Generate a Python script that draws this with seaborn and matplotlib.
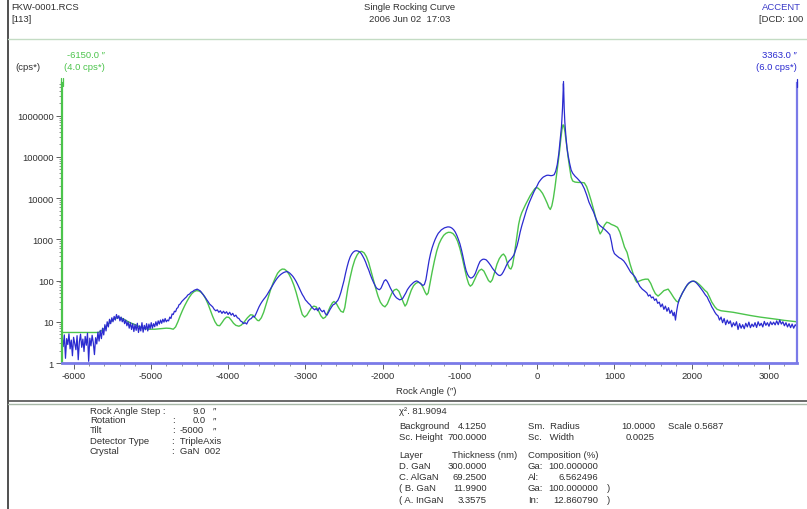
import matplotlib
matplotlib.use("Agg")
import matplotlib.pyplot as plt
import seaborn as sns
from matplotlib.lines import Line2D
from matplotlib.ticker import FixedLocator, FixedFormatter, NullFormatter, LogLocator, MultipleLocator

# ---------------- data ----------------
blue_angle = [
    -6150, -6135, -6120, -6105, -6090, -6075, -6060, -6045, -6030, -6015, -6000, -5985, -5970, -5955, -5940,
    -5925, -5910, -5895, -5880, -5865, -5850, -5835, -5820, -5805, -5790, -5775, -5760, -5745, -5730, -5715,
    -5700, -5685, -5670, -5655, -5640, -5625, -5610, -5595, -5580, -5565, -5550, -5535, -5520, -5505, -5490,
    -5475, -5460, -5445, -5430, -5415, -5400, -5385, -5370, -5355, -5340, -5325, -5310, -5295, -5280, -5265,
    -5250, -5235, -5220, -5205, -5190, -5175, -5160, -5145, -5130, -5115, -5100, -5085, -5070, -5055, -5040,
    -5025, -5010, -4995, -4980, -4965, -4950, -4935, -4920, -4905, -4890, -4875, -4860, -4845, -4830, -4815,
    -4800, -4785, -4770, -4755, -4740, -4725, -4710, -4695, -4680, -4665, -4650, -4635, -4620, -4600, -4580,
    -4560, -4540, -4520, -4500, -4480, -4460, -4440, -4420, -4400, -4380, -4360, -4340, -4320, -4300, -4280,
    -4260, -4240, -4220, -4200, -4180, -4160, -4140, -4120, -4100, -4080, -4060, -4040, -4020, -4000, -3980,
    -3960, -3940, -3920, -3900, -3880, -3860, -3840, -3820, -3800, -3780, -3760, -3740, -3720, -3700, -3680,
    -3660, -3640, -3620, -3600, -3580, -3560, -3540, -3520, -3500, -3480, -3460, -3440, -3420, -3400, -3380,
    -3360, -3340, -3320, -3300, -3280, -3260, -3240, -3220, -3200, -3180, -3160, -3140, -3120, -3100, -3080,
    -3060, -3040, -3020, -3000, -2980, -2960, -2940, -2920, -2900, -2880, -2860, -2840, -2820, -2800, -2780,
    -2760, -2740, -2720, -2700, -2680, -2660, -2640, -2620, -2600, -2580, -2560, -2540, -2520, -2500, -2480,
    -2460, -2440, -2420, -2400, -2380, -2360, -2340, -2320, -2300, -2280, -2260, -2240, -2220, -2200, -2180,
    -2160, -2140, -2120, -2100, -2080, -2060, -2040, -2020, -2000, -1980, -1960, -1940, -1920, -1900, -1880,
    -1860, -1840, -1820, -1800, -1780, -1760, -1740, -1720, -1700, -1680, -1660, -1640, -1620, -1600, -1580,
    -1560, -1540, -1520, -1500, -1480, -1460, -1440, -1420, -1400, -1380, -1360, -1340, -1320, -1300, -1280,
    -1260, -1240, -1220, -1200, -1180, -1160, -1140, -1120, -1100, -1080, -1060, -1040, -1020, -1000, -980,
    -960, -940, -920, -900, -880, -860, -840, -820, -800, -780, -760, -740, -720, -700, -680,
    -660, -640, -620, -600, -580, -560, -540, -520, -500, -480, -460, -440, -420, -400, -380,
    -360, -340, -320, -300, -280, -260, -240, -220, -200, -180, -160, -140, -120, -100, -80,
    -60, -40, -20, 0, 20, 40, 60, 80, 100, 120, 140, 160, 180, 200, 220,
    240, 260, 280, 300, 315, 328, 336, 340, 344, 350, 358, 370, 385, 400, 420,
    440, 460, 490, 520, 550, 580, 610, 640, 670, 700, 730, 760, 790, 820, 850,
    880, 910, 940, 960, 980, 1000, 1030, 1060, 1090, 1120, 1150, 1180, 1210, 1240, 1270,
    1300, 1330, 1360, 1390, 1420, 1440, 1460, 1480, 1500, 1520, 1540, 1560, 1580, 1600, 1620,
    1640, 1660, 1680, 1700, 1720, 1740, 1760, 1775, 1790, 1805, 1820, 1840, 1860, 1880, 1900,
    1920, 1940, 1960, 1980, 2000, 2020, 2040, 2060, 2080, 2100, 2120, 2140, 2160, 2180, 2200,
    2220, 2240, 2260, 2280, 2300, 2320, 2340, 2360, 2380, 2400, 2420, 2440, 2460, 2480, 2500,
    2520, 2540, 2560, 2580, 2600, 2620, 2640, 2660, 2680, 2700, 2720, 2740, 2760, 2780, 2800,
    2820, 2840, 2860, 2880, 2900, 2920, 2940, 2960, 2980, 3000, 3020, 3040, 3060, 3080, 3100,
    3120, 3140, 3160, 3180, 3200, 3220, 3240, 3260, 3280, 3300, 3320, 3340, 3363,
]
blue_cps = [
    4.5, 2.5, 4.8, 1.3, 3.9, 2.8, 5.1, 2.2, 3.6, 1.5, 4.2, 3.0, 2.1, 4.6, 1.2,
    3.3, 5.0, 2.4, 3.8, 1.9, 4.4, 2.7, 5.3, 1.1, 4.0, 2.6, 4.7, 3.1, 1.6, 4.1,
    2.9, 5.6, 3.4, 6.2, 3.9, 7.0, 4.8, 8.5, 6.0, 10.0, 7.5, 11.5, 9.0, 12.5, 10.0,
    13.5, 11.0, 15.0, 12.0, 14.0, 10.5, 13.0, 10.0, 12.0, 9.0, 11.0, 8.0, 10.0, 7.0, 9.5,
    6.5, 9.0, 5.8, 8.5, 6.2, 9.2, 5.5, 8.0, 6.0, 9.5, 5.6, 8.2, 6.4, 9.0, 6.0,
    8.8, 6.8, 9.5, 7.0, 9.0, 7.6, 10.0, 8.0, 10.5, 8.8, 11.0, 9.2, 11.5, 9.8, 12.0,
    10.0, 11.0, 10.5, 13.0, 12.0, 15.5, 15.0, 18.0, 17.5, 21.0, 22.0, 26.0, 27.0, 31.0, 34.0,
    37.0, 40.0, 45.0, 47.0, 52.0, 54.0, 58.0, 60.0, 62.0, 59.0, 56.0, 50.0, 45.0, 40.0, 35.0,
    31.0, 27.0, 25.0, 23.0, 20.0, 18.5, 19.5, 17.0, 18.5, 16.0, 18.0, 16.0, 17.5, 15.0, 17.0,
    14.5, 16.0, 13.5, 14.5, 12.5, 12.0, 10.5, 10.0, 9.0, 9.5, 8.8, 10.5, 11.5, 12.0, 13.5,
    13.0, 15.5, 19.0, 23.0, 27.0, 31.0, 35.0, 39.0, 44.0, 51.0, 59.0, 69.0, 79.0, 91.0, 104.0,
    117.0, 129.0, 140.0, 149.0, 157.0, 162.0, 165.0, 160.0, 150.0, 138.0, 125.0, 110.0, 95.0, 80.0, 66.0,
    55.0, 46.0, 40.0, 34.0, 31.0, 28.0, 26.0, 23.0, 21.0, 19.5, 21.0, 18.5, 22.0, 19.0, 17.5,
    19.0, 15.5, 14.5, 17.0, 20.0, 23.0, 26.0, 27.0, 30.0, 33.0, 40.0, 52.0, 72.0, 100.0, 150.0,
    215.0, 295.0, 375.0, 440.0, 490.0, 520.0, 530.0, 520.0, 500.0, 460.0, 400.0, 340.0, 280.0, 220.0, 180.0,
    140.0, 112.0, 92.0, 77.0, 66.0, 62.0, 60.0, 66.0, 80.0, 98.0, 105.0, 95.0, 80.0, 66.0, 56.0,
    48.0, 42.0, 38.0, 36.0, 34.0, 35.0, 37.0, 43.0, 50.0, 60.0, 68.0, 76.0, 83.0, 90.0, 95.0,
    98.0, 94.0, 88.0, 82.0, 76.0, 80.0, 105.0, 180.0, 300.0, 450.0, 620.0, 800.0, 1000.0, 1200.0, 1400.0,
    1550.0, 1700.0, 1800.0, 1900.0, 1950.0, 2000.0, 2000.0, 1950.0, 1850.0, 1700.0, 1500.0, 1250.0, 1000.0, 780.0, 560.0,
    380.0, 250.0, 175.0, 140.0, 122.0, 115.0, 118.0, 128.0, 150.0, 190.0, 240.0, 290.0, 315.0, 330.0, 328.0,
    318.0, 290.0, 260.0, 230.0, 200.0, 178.0, 160.0, 145.0, 135.0, 132.0, 140.0, 160.0, 190.0, 230.0, 270.0,
    305.0, 330.0, 370.0, 420.0, 540.0, 700.0, 1000.0, 1500.0, 2100.0, 2800.0, 3800.0, 5000.0, 6400.0, 8000.0, 9800.0,
    12000.0, 14500.0, 17000.0, 20000.0, 24000.0, 27000.0, 30000.0, 32500.0, 34000.0, 35500.0, 36000.0, 35500.0, 35000.0, 35500.0, 37000.0,
    45000.0, 65000.0, 120000.0, 280000.0, 550000.0, 1500000.0, 4000000.0, 6000000.0, 4000000.0, 1500000.0, 700000.0, 350000.0, 170000.0, 110000.0, 70000.0,
    48000.0, 40000.0, 34000.0, 30000.0, 26000.0, 22000.0, 17000.0, 12000.0, 8000.0, 6000.0, 4600.0, 3200.0, 2400.0, 2100.0, 1900.0,
    1700.0, 1500.0, 1300.0, 900.0, 560.0, 450.0, 400.0, 360.0, 335.0, 300.0, 250.0, 200.0, 160.0, 140.0, 120.0,
    92.0, 72.0, 62.0, 56.0, 50.0, 42.0, 45.0, 38.0, 40.0, 33.0, 36.0, 28.0, 30.0, 23.0, 27.0,
    20.0, 24.0, 18.0, 22.0, 16.0, 19.0, 14.0, 17.0, 11.0, 18.0, 26.0, 35.0, 42.0, 50.0, 58.0,
    68.0, 78.0, 86.0, 92.0, 96.0, 97.0, 94.0, 88.0, 80.0, 72.0, 64.0, 57.0, 50.0, 44.0, 40.0,
    33.0, 28.0, 23.0, 20.0, 17.0, 15.0, 14.0, 11.0, 13.0, 9.5, 12.0, 8.5, 11.0, 9.0, 10.5,
    7.5, 9.5, 8.0, 10.0, 6.5, 9.0, 7.0, 8.5, 6.8, 9.2, 7.5, 9.8, 7.2, 8.8, 7.6,
    9.5, 7.3, 10.0, 8.0, 9.2, 7.5, 10.2, 8.2, 9.5, 7.8, 10.0, 8.5, 9.8, 8.4, 10.5,
    8.5, 11.0, 8.8, 10.0, 8.0, 9.5, 7.5, 9.0, 7.2, 8.8, 7.0, 8.5, 7.5,
]

green_angle = [
    -6150, -5680, -5640, -5600, -5560, -5520, -5480, -5440, -5420, -5390, -5350, -5300, -5250, -5200, -5150,
    -5100, -5030, -4950, -4880, -4800, -4750, -4710, -4680, -4650, -4620, -4590, -4560, -4530, -4500, -4470,
    -4440, -4410, -4380, -4350, -4320, -4290, -4260, -4230, -4200, -4170, -4140, -4110, -4080, -4050, -4020,
    -3990, -3960, -3930, -3900, -3860, -3830, -3790, -3750, -3710, -3680, -3650, -3620, -3600, -3570, -3540,
    -3510, -3480, -3450, -3420, -3390, -3360, -3330, -3300, -3270, -3240, -3210, -3180, -3150, -3120, -3090,
    -3060, -3040, -3010, -2980, -2950, -2920, -2890, -2860, -2830, -2800, -2770, -2740, -2710, -2680, -2650,
    -2630, -2600, -2570, -2540, -2510, -2490, -2470, -2450, -2420, -2390, -2360, -2330, -2300, -2270, -2240,
    -2210, -2180, -2150, -2120, -2090, -2060, -2030, -2000, -1970, -1940, -1910, -1880, -1850, -1820, -1790,
    -1760, -1730, -1710, -1690, -1660, -1630, -1600, -1570, -1540, -1510, -1480, -1450, -1430, -1410, -1390,
    -1360, -1330, -1300, -1270, -1240, -1210, -1180, -1150, -1120, -1090, -1060, -1030, -1000, -970, -940,
    -910, -885, -865, -840, -810, -780, -750, -720, -690, -660, -630, -605, -580, -550, -520,
    -490, -460, -436, -410, -385, -360, -340, -320, -300, -280, -260, -240, -220, -200, -180,
    -150, -120, -90, -60, -30, -10, 10, 40, 70, 100, 130, 150, 170, 190, 210,
    230, 250, 270, 290, 305, 320, 335, 345, 360, 372, 384, 400, 420, 440, 460,
    490, 530, 570, 610, 640, 670, 700, 730, 760, 790, 815, 840, 870, 900, 930,
    960, 1000, 1040, 1070, 1100, 1130, 1164, 1200, 1240, 1270, 1290, 1320, 1360, 1400, 1436,
    1470, 1500, 1530, 1565, 1600, 1640, 1695, 1730, 1770, 1800, 1824, 1850, 1880, 1920, 1960,
    2000, 2030, 2060, 2100, 2140, 2170, 2200, 2230, 2260, 2300, 2330, 2380, 2430, 2536, 2650,
    2760, 2885, 3000, 3100, 3200, 3300, 3363,
]
green_cps = [
    5.5, 5.5, 6.0, 7.0, 8.5, 10.0, 11.5, 12.5, 13.0, 12.5, 11.5, 10.2, 9.2, 8.5, 7.6,
    7.0, 6.6, 6.6, 6.8, 7.0, 6.9, 6.6, 7.5, 10.0, 14.0, 19.0, 25.0, 32.0, 40.0, 48.0,
    54.0, 57.0, 56.0, 52.0, 45.0, 36.0, 27.0, 19.0, 13.5, 10.0, 8.2, 8.0, 9.5, 11.5, 13.0,
    12.8, 11.0, 9.2, 8.2, 7.8, 8.3, 10.0, 12.5, 14.8, 14.5, 12.5, 10.8, 10.6, 12.5, 17.0,
    26.0, 40.0, 60.0, 85.0, 115.0, 150.0, 175.0, 190.0, 188.0, 170.0, 140.0, 108.0, 78.0, 52.0, 32.0,
    20.0, 15.0, 13.0, 14.5, 18.0, 22.0, 24.0, 23.0, 18.5, 14.0, 12.0, 13.0, 17.0, 23.0, 29.0,
    31.0, 28.0, 22.0, 18.0, 17.0, 22.0, 38.0, 65.0, 120.0, 210.0, 320.0, 420.0, 500.0, 510.0, 470.0,
    380.0, 270.0, 170.0, 105.0, 65.0, 42.0, 30.0, 25.0, 23.0, 27.0, 37.0, 50.0, 59.0, 62.0, 55.0,
    40.0, 29.0, 24.0, 27.0, 40.0, 58.0, 75.0, 86.0, 91.0, 86.0, 70.0, 52.0, 45.0, 50.0, 80.0,
    160.0, 300.0, 520.0, 780.0, 1020.0, 1250.0, 1400.0, 1480.0, 1470.0, 1380.0, 1180.0, 900.0, 600.0, 360.0, 200.0,
    115.0, 82.0, 73.0, 80.0, 105.0, 140.0, 175.0, 189.0, 170.0, 130.0, 100.0, 91.0, 105.0, 160.0, 250.0,
    340.0, 410.0, 440.0, 380.0, 260.0, 200.0, 190.0, 230.0, 380.0, 700.0, 1300.0, 2300.0, 3400.0, 4400.0, 5300.0,
    7000.0, 9000.0, 11500.0, 14000.0, 17000.0, 18000.0, 17500.0, 15500.0, 13000.0, 10000.0, 7500.0, 6000.0, 5300.0, 6500.0, 10000.0,
    18000.0, 35000.0, 70000.0, 140000.0, 260000.0, 450000.0, 600000.0, 580000.0, 400000.0, 260000.0, 180000.0, 100000.0, 55000.0, 32000.0, 26000.0,
    24500.0, 24000.0, 24000.0, 23500.0, 19000.0, 13000.0, 8500.0, 5300.0, 3200.0, 1800.0, 1350.0, 1600.0, 2200.0, 2600.0, 2500.0,
    2300.0, 2150.0, 1950.0, 1500.0, 1000.0, 650.0, 480.0, 260.0, 150.0, 105.0, 91.0, 97.0, 104.0, 108.0, 108.0,
    85.0, 62.0, 48.0, 42.0, 48.0, 57.0, 62.0, 50.0, 38.0, 32.0, 30.0, 38.0, 50.0, 68.0, 85.0,
    95.0, 97.0, 92.0, 80.0, 67.0, 58.0, 52.0, 40.0, 30.0, 23.0, 20.0, 18.5, 18.0, 17.0, 15.5,
    14.2, 13.0, 12.2, 11.5, 10.8, 10.3, 10.0,
]

y_ticks = [1, 10, 100, 1000, 10000, 100000, 1000000]
y_tick_labels = ["1", "10", "100", "1000", "10000", "100000", "1000000"]
x_ticks = [-6000, -5000, -4000, -3000, -2000, -1000, 0, 1000, 2000, 3000]
x_tick_labels = ["-6000", "-5000", "-4000", "-3000", "-2000", "-1000", "0", "1000", "2000", "3000"]

# ---------------- style ----------------
sns.set_theme(style="white")
plt.rcParams['font.family'] = ['Liberation Sans', 'DejaVu Sans']

BLUE = "#2b2bd0"
GREEN = "#4cc44c"
AXBLUE = "#7a7ae8"
TXT = "#303030"
FS = 6.8

W, H = 807, 510
fig = plt.figure(figsize=(W / 100, H / 100), dpi=100)
fig.patch.set_facecolor("white")


def fx(x):
    return x / W


def fy(y):
    return 1 - y / H


def ftext(x, y, s, ha="left", color=TXT, size=FS, **kw):
    fig.text(fx(x), fy(y), s, ha=ha, va="center", color=color, fontsize=size, **kw)


def fline(x0, y0, x1, y1, color, lw):
    fig.add_artist(Line2D([fx(x0), fx(x1)], [fy(y0), fy(y1)], color=color, lw=lw,
                          transform=fig.transFigure))


# ---------------- axes ----------------
L, R, T, B = 62, 797, 84, 364
ax = fig.add_axes([fx(L), fy(B), (R - L) / W, (B - T) / H])
ax.set_facecolor("white")

sns.lineplot(x=green_angle, y=green_cps, ax=ax, color=GREEN, lw=1.0,
             estimator=None, sort=False)
sns.lineplot(x=blue_angle, y=blue_cps, ax=ax, color=BLUE, lw=0.9,
             estimator=None, sort=False)

ax.set_yscale("log")
ax.set_xlim(-6150, 3363)
ax.set_ylim(1, 6.2e6)

ax.yaxis.set_major_locator(FixedLocator(y_ticks))
ax.yaxis.set_major_formatter(FixedFormatter(y_tick_labels))
ax.yaxis.set_minor_locator(LogLocator(base=10, subs=range(2, 10), numticks=20))
ax.yaxis.set_minor_formatter(NullFormatter())
ax.xaxis.set_major_locator(FixedLocator(x_ticks))
ax.xaxis.set_major_formatter(FixedFormatter(x_tick_labels))
ax.xaxis.set_minor_locator(MultipleLocator(200))

ax.tick_params(axis="both", which="major", direction="out", length=4, width=0.7,
               color="#606060", labelsize=FS, labelcolor=TXT, pad=2)
ax.tick_params(axis="both", which="minor", direction="out", length=2, width=0.6,
               color="#808080")
ax.tick_params(axis="x", which="both", bottom=True)
ax.tick_params(axis="y", which="both", left=True)

ax.spines["top"].set_visible(False)
ax.spines["left"].set_color(GREEN)
ax.spines["left"].set_linewidth(1.6)
ax.spines["bottom"].set_color(AXBLUE)
ax.spines["bottom"].set_linewidth(2.0)
ax.spines["right"].set_color(AXBLUE)
ax.spines["right"].set_linewidth(1.6)
ax.set_xlabel("")
ax.set_ylabel("")
ax.grid(False)

ftext(396, 391, "Rock Angle (″)")

# ---------------- frame / header ----------------
fline(8, 0, 8, H, "#505050", 1.4)
fline(8, 40, W, 40, "#c4dcc4", 1.0)
fline(8, 402, W, 402, "#505050", 1.2)
fline(8, 404.5, W, 404.5, "#a8b8a8", 1.0)

ftext(11, 8, "FKW-0001.RCS")
ftext(11, 19, "[113]")
ftext(410, 8, "Single Rocking Curve", ha="center")
ftext(410, 19, "2006 Jun 02  17:03", ha="center")
ftext(762, 8, "ACCENT", color="#3a3ac8")
ftext(759, 19, "[DCD: 100")

ftext(105, 55, "-6150.0 ″", ha="right", color=GREEN)
ftext(40, 68, "(cps*)", ha="right", color=TXT)
ftext(105, 68, "(4.0 cps*)", ha="right", color=GREEN)
ftext(797, 55, "3363.0 ″", ha="right", color=BLUE)
ftext(797, 68, "(6.0 cps*)", ha="right", color=BLUE)

# cursor markers
fline(61, 79, 61, 87, GREEN, 0.9)
fline(63.5, 79, 63.5, 87, GREEN, 0.9)
fline(563, 82, 563, 90, BLUE, 0.9)
fline(797, 80, 797, 88, BLUE, 0.9)

# ---------------- info block (left) ----------------
ys_l = [411, 421, 431, 442, 452]
ftext(90, ys_l[0], "Rock Angle Step :")
ftext(90, ys_l[1], "Rotation")
ftext(172, ys_l[1], ":")
ftext(90, ys_l[2], "Tilt")
ftext(172, ys_l[2], ":")
ftext(206, ys_l[0], "9.0", ha="right")
ftext(206, ys_l[1], "0.0", ha="right")
ftext(204, ys_l[2], "-5000", ha="right")
for yy in ys_l[:3]:
    ftext(213, yy, "″")
ftext(90, ys_l[3], "Detector Type")
ftext(172, ys_l[3], ":  TripleAxis")
ftext(90, ys_l[4], "Crystal")
ftext(172, ys_l[4], ":  GaN  002")

# ---------------- info block (right) ----------------
ftext(399, 411, "χ². 81.9094")
ftext(399, 427, "Background")
ftext(487, 427, "4.1250", ha="right")
ftext(528, 427, "Sm.  Radius")
ftext(655, 427, "10.0000", ha="right")
ftext(668, 427, "Scale 0.5687")
ftext(399, 438, "Sc. Height")
ftext(487, 438, "700.0000", ha="right")
ftext(528, 438, "Sc.   Width")
ftext(655, 438, "0.0025", ha="right")

ftext(399, 455, "Layer")
ftext(452, 455, "Thickness (nm)")
ftext(528, 455, "Composition (%)")
layers = ["D. GaN", "C. AlGaN", "( B. GaN", "( A. InGaN"]
thick = ["300.0000", "69.2500", "11.9900", "3.3575"]
elem = ["Ga:", "Al:", "Ga:", "In:"]
comp = ["100.000000", "6.562496", "100.000000", "12.860790"]
close = ["", "", ")", ")"]
for i, yy in enumerate([467, 478, 489, 501]):
    ftext(399, yy, layers[i])
    ftext(487, yy, thick[i], ha="right")
    ftext(528, yy, elem[i])
    ftext(598, yy, comp[i], ha="right")
    if close[i]:
        ftext(607, yy, close[i])

fig.savefig("out.png", dpi=100, facecolor="white")
